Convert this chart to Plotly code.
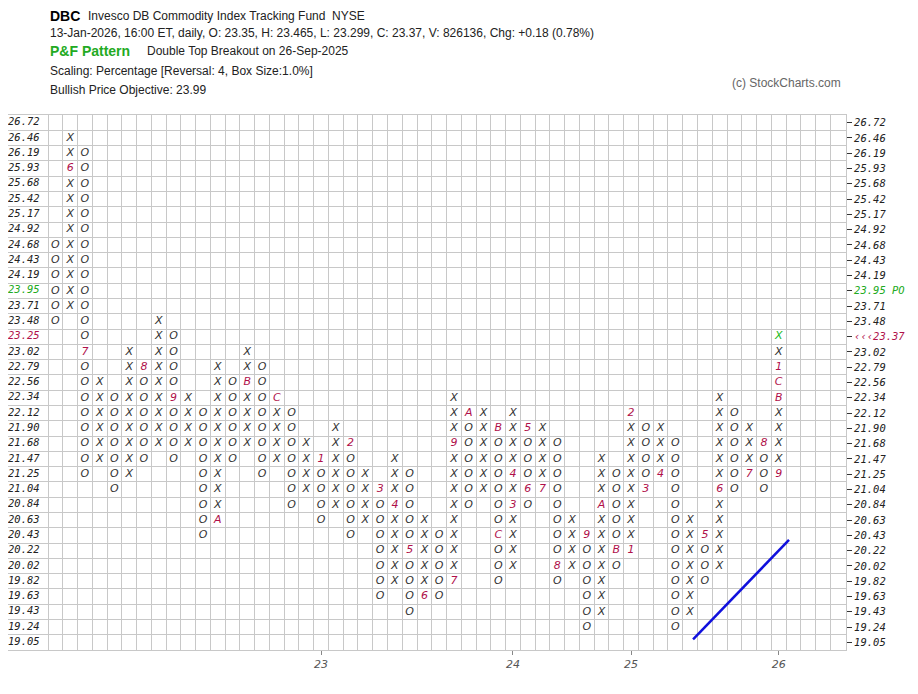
import plotly.graph_objects as go

box_labels = ["19.05","19.24","19.43","19.63","19.82","20.02","20.22","20.43","20.63","20.84",
              "21.04","21.25","21.47","21.68","21.90","22.12","22.34","22.56","22.79","23.02",
              "23.25","23.48","23.71","23.95","24.19","24.43","24.68","24.92","25.17","25.42",
              "25.68","25.93","26.19","26.46","26.72"]

col_types   = ["O","X","O","X","O","X","O","X","O","X","O","X","O","X","O","X","O","X","O","X",
               "O","X","O","X","O","X","O","X","O","X","O","X","O","X","O","X","O","X","O","X",
               "O","X","O","X","O","X","O","X","O","X"]
col_bottoms = [21,22,11,12,10,11,12,13,12,13, 7, 8,12,13,11,12, 9,10, 8, 9,
                7, 8, 3, 4, 2, 3, 3, 4, 9,10, 4, 5, 9,10, 4, 5, 1, 2, 5, 6,
               10,11, 1, 2, 4, 5,10,11,10,11]
col_tops    = [26,33,32,17,16,19,18,21,20,16,15,18,17,19,18,16,15,13,12,14,
               13,11,10,12,11, 8, 7,16,15,15,14,15,14,14,13, 8, 7,12,11,15,
               14,14,13, 8, 7,16,15,14,13,20]
# month markers: (column, row, label)
month_marks = [(2,31,"6"),(3,19,"7"),(7,18,"8"),(9,16,"9"),(12,8,"A"),(14,17,"B"),(16,16,"C"),
               (19,12,"1"),(21,13,"2"),(23,10,"3"),(24,9,"4"),(25,6,"5"),(26,3,"6"),(28,4,"7"),
               (28,13,"9"),(29,15,"A"),(31,14,"B"),(31,7,"C"),(32,9,"3"),(32,11,"4"),(33,14,"5"),
               (33,10,"6"),(34,10,"7"),(35,5,"8"),(37,7,"9"),(38,9,"A"),(39,6,"B"),(40,6,"1"),
               (40,15,"2"),(41,10,"3"),(42,11,"4"),(45,7,"5"),(46,10,"6"),(48,11,"7"),(49,13,"8"),
               (50,11,"9"),(50,16,"B"),(50,17,"C"),(50,18,"1")]
last_box = (50, 20)
year_cols = [19, 32, 40, 50]
year_labels = ["23", "24", "25", "26"]
trend_cols = [44.2, 50.7]
trend_rows = [0.2, 6.7]
right_labels = dict(zip(range(len(box_labels)), box_labels))
right_labels[23] = "<span style='color:#22aa22'>23.95 PO</span>"
right_labels[20] = "<span style='color:#b0104a'>‹‹‹23.37</span>"

marks = {(c, r): lab for c, r, lab in month_marks}
xs, ys, ts, cs = [], [], [], []
for i, (t, b, tp) in enumerate(zip(col_types, col_bottoms, col_tops)):
    c = i + 1
    for r in range(b, tp + 1):
        xs.append(c); ys.append(r)
        if (c, r) == last_box:
            ts.append("X"); cs.append("#22bb22")
        elif (c, r) in marks:
            ts.append(marks[(c, r)]); cs.append("#b0104a")
        else:
            ts.append(t); cs.append("#333333")

XMIN, XMAX = -2.21, 54.56
fig = go.Figure()
fig.add_trace(go.Scatter(x=xs, y=ys, mode="text", text=ts,
                         textfont=dict(family="DejaVu Sans", size=11, color=cs, style="italic"),
                         hoverinfo="skip", showlegend=False))
lcol = ["#22aa22" if i == 23 else "#b0104a" if i == 20 else "#222222" for i in range(len(box_labels))]
fig.add_trace(go.Scatter(x=[XMIN] * len(box_labels), y=list(range(len(box_labels))),
                         mode="text", text=box_labels, textposition="middle right",
                         textfont=dict(family="DejaVu Sans Mono", size=10.5, color=lcol, style="italic"),
                         hoverinfo="skip", showlegend=False, cliponaxis=False))
fig.add_trace(go.Scatter(x=trend_cols, y=trend_rows, mode="lines",
                         line=dict(color="#1010dd", width=2.5), hoverinfo="skip", showlegend=False))

n = len(box_labels)
fig.update_xaxes(range=[XMIN, XMAX], showgrid=False, zeroline=False,
                 tickvals=year_cols, ticktext=year_labels, ticks="outside", ticklen=4,
                 tickcolor="#888", tickfont=dict(family="DejaVu Sans", size=11, color="#555", style="italic"),
                 minor=dict(tickvals=[k + 0.5 for k in range(54)], showgrid=True,
                            gridcolor="#c8c8c8", gridwidth=1, ticks=""),
                 showline=True, linecolor="#c8c8c8", mirror=True)
fig.update_yaxes(range=[-0.5, n - 0.5], side="right", showgrid=False, zeroline=False,
                 tickvals=list(range(n)), ticktext=[right_labels[i] for i in range(n)],
                 ticks="outside", ticklen=5, tickcolor="#333",
                 tickfont=dict(family="DejaVu Sans Mono", size=10.5, color="#222", style="italic"),
                 minor=dict(tickvals=[k - 0.5 for k in range(n + 1)], showgrid=True,
                            gridcolor="#c8c8c8", gridwidth=1, ticks=""),
                 showline=True, linecolor="#c8c8c8", mirror=True)

OX, OY = 8, 8  # page offset
L, R, T, B = 0, 72, 107, 44
W, H = 910, 686
pw, ph = W - L - R, H - T - B
def px(x): return (x - OX - L) / pw
def py(y): return (H - B - (y - OY)) / ph

ann = [
    (48, 16, "<b>DBC</b>", 14, "#000"),
    (86, 16, "Invesco DB Commodity Index Tracking Fund  NYSE", 12, "#222"),
    (48, 33, "13-Jan-2026, 16:00 ET, daily, O: 23.35, H: 23.465, L: 23.299, C: 23.37, V: 826136, Chg: +0.18 (0.78%)", 12, "#222"),
    (48, 51, "<b>P&F Pattern</b>", 14, "#22aa22"),
    (145, 51, "Double Top Breakout on 26-Sep-2025", 12, "#222"),
    (48, 71, "Scaling: Percentage [Reversal: 4, Box Size:1.0%]", 12, "#222"),
    (48, 90, "Bullish Price Objective: 23.99", 12, "#222"),
    (730, 83, "(c) StockCharts.com", 12, "#666"),
]
fig.update_layout(
    width=W, height=H, margin=dict(l=L, r=R, t=T, b=B, autoexpand=False),
    plot_bgcolor="white", paper_bgcolor="white",
    annotations=[dict(x=px(x), y=py(y), xref="paper", yref="paper", text=t, showarrow=False,
                      xanchor="left", yanchor="middle", font=dict(family="Liberation Sans", size=s, color=c))
                 for x, y, t, s, c in ann],
)
fig.write_html("out.html")
